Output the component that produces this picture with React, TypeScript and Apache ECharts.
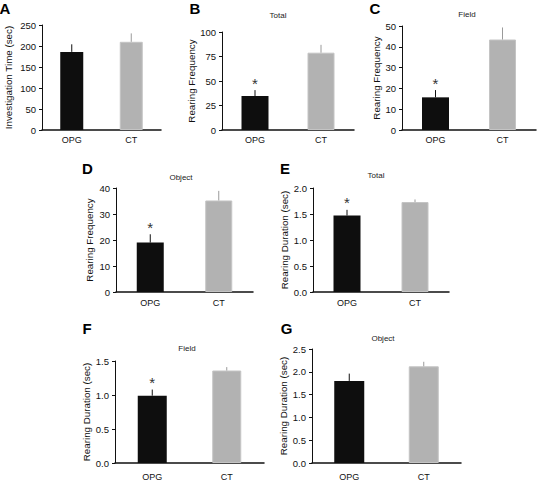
import React, { useEffect, useRef } from 'react';
import * as echarts from 'echarts';

// ---------- data ----------
const categories = ['OPG', 'CT'];
const panelLetters = ['A', 'B', 'C', 'D', 'E', 'F', 'G'];
const panelTitles = ['', 'Total', 'Field', 'Object', 'Total', 'Field', 'Object'];
const yAxisNames = [
  'Investigation Time (sec)',
  'Rearing Frequency',
  'Rearing Frequency',
  'Rearing Frequency',
  'Rearing Duration (sec)',
  'Rearing Duration (sec)',
  'Rearing Duration (sec)',
];
const yMax = [250, 100, 50, 40, 2.0, 1.5, 2.5];
const yInterval = [50, 25, 10, 10, 0.5, 0.5, 0.5];
const yDecimals = [0, 0, 0, 0, 1, 1, 1];

const investigationTime = [186, 210];
const investigationTimeErr = [18, 20];
const rearingFreqTotal = [34.7, 78.9];
const rearingFreqTotalErr = [6, 8];
const rearingFreqField = [15.7, 43.5];
const rearingFreqFieldErr = [3.5, 5.8];
const rearingFreqObject = [19, 35.2];
const rearingFreqObjectErr = [3.2, 3.7];
const rearingDurTotal = [1.47, 1.73];
const rearingDurTotalErr = [0.11, 0.05];
const rearingDurField = [0.99, 1.36];
const rearingDurFieldErr = [0.09, 0.05];
const rearingDurObject = [1.8, 2.12];
const rearingDurObjectErr = [0.16, 0.1];
// significance marker (*) per category
const sigA = [0, 0];
const sigB = [1, 0];
const sigC = [1, 0];
const sigD = [1, 0];
const sigE = [1, 0];
const sigF = [1, 0];
const sigG = [0, 0];

const panelMeans = [investigationTime, rearingFreqTotal, rearingFreqField, rearingFreqObject, rearingDurTotal, rearingDurField, rearingDurObject];
const panelErrs = [investigationTimeErr, rearingFreqTotalErr, rearingFreqFieldErr, rearingFreqObjectErr, rearingDurTotalErr, rearingDurFieldErr, rearingDurObjectErr];
const panelSig = [sigA, sigB, sigC, sigD, sigE, sigF, sigG];

// ---------- layout (pixels) ----------
const layouts = [
  { left: 42, top: 25, width: 119, height: 105, barWidth: 23, nameGap: 29, catMargin: 5, letter: [5, 8], title: [0, 0] },
  { left: 222, top: 32, width: 132, height: 98, barWidth: 27, nameGap: 22, catMargin: 5, letter: [195, 8], title: [278, 15] },
  { left: 402, top: 26, width: 134, height: 104, barWidth: 27, nameGap: 20, catMargin: 5, letter: [375, 8.5], title: [467, 14.5] },
  { left: 116, top: 188, width: 137, height: 104, barWidth: 27, nameGap: 22, catMargin: 6, letter: [87.5, 168], title: [181, 177] },
  { left: 313, top: 188, width: 136, height: 104, barWidth: 27, nameGap: 24, catMargin: 6, letter: [285, 168], title: [376, 175] },
  { left: 115, top: 361, width: 149, height: 102, barWidth: 29, nameGap: 23, catMargin: 9, letter: [87, 328], title: [187, 348] },
  { left: 312, top: 349, width: 149, height: 114, barWidth: 30, nameGap: 21, catMargin: 9, letter: [286.5, 328], title: [383, 338] },
];

const barColors = ['#0e0e0e', '#b2b2b2'];
const errColors = ['#111111', '#9a9a9a'];
const SANS = "'Liberation Sans', Arial, Helvetica, sans-serif";

function buildOption() {
  const grid: any[] = [];
  const xAxis: any[] = [];
  const yAxis: any[] = [];
  const series: any[] = [];
  const graphic: any[] = [];

  layouts.forEach((L, i) => {
    grid.push({ left: L.left, top: L.top, width: L.width, height: L.height, containLabel: false });
    xAxis.push({
      type: 'category',
      gridIndex: i,
      data: categories,
      axisLine: { lineStyle: { color: '#111', width: 1.5 } },
      axisTick: { show: false },
      axisLabel: { color: '#111', fontSize: 9, fontFamily: SANS, margin: L.catMargin },
    });
    yAxis.push({
      type: 'value',
      gridIndex: i,
      min: 0,
      max: yMax[i],
      interval: yInterval[i],
      name: yAxisNames[i],
      nameLocation: 'middle',
      nameGap: L.nameGap,
      nameTextStyle: { color: '#111', fontSize: 9.8, fontFamily: SANS },
      axisLine: { show: true, lineStyle: { color: '#111', width: 1 } },
      axisTick: { show: true, length: 3, lineStyle: { color: '#111' } },
      splitLine: { show: false },
      axisLabel: {
        color: '#111',
        fontSize: 9.5,
        fontFamily: SANS,
        margin: 6,
        formatter: (v: number) => v.toFixed(yDecimals[i]),
      },
    });
    series.push({
      type: 'bar',
      xAxisIndex: i,
      yAxisIndex: i,
      barWidth: L.barWidth,
      data: panelMeans[i].map((v, k) => ({
        value: v,
        itemStyle: { color: barColors[k], borderColor: k === 1 ? '#c4c4c4' : barColors[k], borderWidth: k === 1 ? 1 : 0 },
      })),
    });
    series.push({
      type: 'custom',
      xAxisIndex: i,
      yAxisIndex: i,
      data: panelMeans[i].map((v, k) => [k, v, panelErrs[i][k], panelSig[i][k]]),
      renderItem: (params: any, api: any) => {
        const k = api.value(0);
        const v = api.value(1);
        const e = api.value(2);
        const s = api.value(3);
        const p0 = api.coord([k, v]);
        const p1 = api.coord([k, v + e]);
        const children: any[] = [
          {
            type: 'line',
            shape: { x1: p0[0], y1: p0[1], x2: p1[0], y2: p1[1] },
            style: { stroke: errColors[k], lineWidth: 1 },
          },
        ];
        if (s) {
          children.push({
            type: 'text',
            x: p1[0],
            y: p1[1] - 7,
            style: { text: '*', fill: '#333', font: `15px ${SANS}`, align: 'center', verticalAlign: 'middle' },
          });
        }
        return { type: 'group', children };
      },
      z: 3,
    });

    graphic.push({
      type: 'text',
      x: L.letter[0],
      y: L.letter[1],
      style: { text: panelLetters[i], fill: '#000', font: `bold 15px ${SANS}`, align: 'center', verticalAlign: 'middle' },
    });
    if (panelTitles[i]) {
      graphic.push({
        type: 'text',
        x: L.title[0],
        y: L.title[1],
        style: { text: panelTitles[i], fill: '#222', font: `8px ${SANS}`, align: 'center', verticalAlign: 'middle' },
      });
    }
  });

  return {
    animation: false,
    backgroundColor: '#ffffff',
    grid,
    xAxis,
    yAxis,
    series,
    graphic,
  };
}

export default function App() {
  const ref = useRef<HTMLDivElement>(null);
  useEffect(() => {
    if (!ref.current) return;
    const chart = echarts.init(ref.current, undefined, { renderer: 'svg' });
    chart.setOption(buildOption());
    return () => chart.dispose();
  }, []);
  return (
    <div
      ref={ref}
      style={{ position: 'fixed', left: 0, top: 0, width: 537, height: 481, background: '#fff' }}
    />
  );
}
